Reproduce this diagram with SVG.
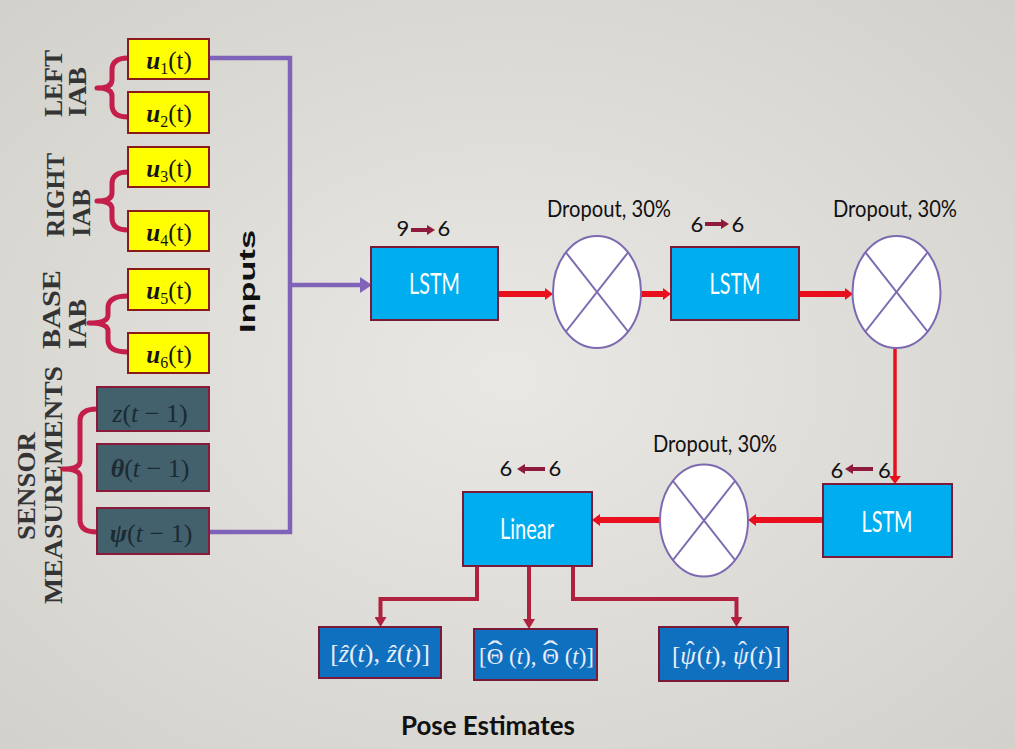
<svg xmlns="http://www.w3.org/2000/svg" width="1015" height="749" viewBox="0 0 1015 749">
<defs>
<radialGradient id="bg" cx="50%" cy="50%" r="70%">
<stop offset="0" stop-color="#EAE8E4"/>
<stop offset="1" stop-color="#D3D1CC"/>
</radialGradient>
<marker id="hp" markerUnits="userSpaceOnUse" markerWidth="12" markerHeight="16" refX="0" refY="8" orient="auto"><path d="M0,0 L12,8 L0,16 Z" fill="#7F63B8"/></marker>
<marker id="hr" markerUnits="userSpaceOnUse" markerWidth="8" markerHeight="12" refX="0" refY="6" orient="auto"><path d="M0,0 L8,6 L0,12 Z" fill="#E8101C"/></marker>
<marker id="hc" markerUnits="userSpaceOnUse" markerWidth="10" markerHeight="12" refX="0" refY="6" orient="auto"><path d="M0,0 L10,6 L0,12 Z" fill="#B0203F"/></marker>
<marker id="hl" markerUnits="userSpaceOnUse" markerWidth="8" markerHeight="10" refX="0" refY="5" orient="auto"><path d="M0,0 L8,5 L0,10 Z" fill="#8E1B3C"/></marker>
</defs>
<style>
.side{font-family:"Liberation Serif",serif;font-weight:bold;font-size:25px;fill:#343434}
.yb{fill:#FFFF00;stroke:#8B1A1A;stroke-width:2}
.sb{fill:#43606D;stroke:#8B1A3A;stroke-width:2}
.lb{fill:#00AEEF;stroke:#7B1A38;stroke-width:2}
.ob{fill:#1070C0;stroke:#7B1A38;stroke-width:2}
.ell{fill:#FFFFFF;stroke:#7D6AB0;stroke-width:2}
.xl{stroke:#7D6AB0;stroke-width:2}
.ut{font-family:"Liberation Serif",serif;font-size:25px;fill:#151515}
.st{font-family:"Liberation Serif",serif;font-size:26px;fill:#1B2A33}
.ot{font-family:"Liberation Serif","DejaVu Serif",serif;fill:#E8EEF8}
.gs{font-family:Lato,"Open Sans",sans-serif;fill:#111}
.wt{font-family:Lato,"Open Sans",sans-serif;fill:#FFFFFF;font-size:29px}
.brace{fill:none;stroke:#C41E4A;stroke-width:5;stroke-linejoin:round;stroke-linecap:round}
.pur{fill:none;stroke:#7F63B8;stroke-width:4.5}
.red{fill:none;stroke:#E8101C;stroke-width:6}
.redv{fill:none;stroke:#E8101C;stroke-width:3.5}
.crm{fill:none;stroke:#B0203F;stroke-width:4}
.la{fill:none;stroke:#8E1B3C;stroke-width:4}
</style>
<rect x="0" y="0" width="1015" height="749" fill="url(#bg)"/>

<g id="side-labels">
<text class="side" transform="translate(62,117) rotate(-90)" textLength="67" lengthAdjust="spacingAndGlyphs">LEFT</text>
<text class="side" transform="translate(86,117) rotate(-90)" textLength="50" lengthAdjust="spacingAndGlyphs">IAB</text>
<text class="side" transform="translate(64,237) rotate(-90)" textLength="84" lengthAdjust="spacingAndGlyphs">RIGHT</text>
<text class="side" transform="translate(90,237) rotate(-90)" textLength="48" lengthAdjust="spacingAndGlyphs">IAB</text>
<text class="side" transform="translate(60,349) rotate(-90)" textLength="79" lengthAdjust="spacingAndGlyphs">BASE</text>
<text class="side" transform="translate(86,349) rotate(-90)" textLength="50" lengthAdjust="spacingAndGlyphs">IAB</text>
<text class="side" transform="translate(35,486) rotate(-90)" text-anchor="middle" textLength="108" lengthAdjust="spacingAndGlyphs">SENSOR</text>
<text class="side" transform="translate(62,485) rotate(-90)" text-anchor="middle" textLength="238" lengthAdjust="spacingAndGlyphs">MEASUREMENTS</text>
<text transform="translate(255,281.5) rotate(-90)" text-anchor="middle" font-family="'Liberation Sans',Arial,sans-serif" font-weight="bold" font-size="22" fill="#111" textLength="103" lengthAdjust="spacingAndGlyphs">Inputs</text>
</g>

<g id="braces">
<path class="brace" d="M128,58 Q112,58 112,70 L112,80 Q112,88 97,88 Q112,88 112,96 L112,105 Q112,117 128,117"/>
<path class="brace" d="M128,172 Q112,172 112,184 L112,193 Q112,201 97,201 Q112,201 112,209 L112,218 Q112,230 128,230"/>
<path class="brace" d="M128,296 Q108,296 108,308 L108,315 Q108,323 89,323 Q108,323 108,331 L108,340 Q108,352 128,352"/>
<path class="brace" d="M97,409 Q80,409 80,421 L80,461 Q80,469 63,469 Q80,469 80,477 L80,520 Q80,532 97,532"/>
</g>

<g id="connectors">
<path class="pur" d="M209,58 H290 V532 H209"/>
<path class="pur" d="M288,285 H360" marker-end="url(#hp)"/>
<path class="red" d="M499,294 H545" marker-end="url(#hr)"/>
<path class="red" d="M641,294 H663" marker-end="url(#hr)"/>
<path class="red" d="M799,294 H845" marker-end="url(#hr)"/>
<path class="redv" d="M895,347 V476" marker-end="url(#hr)"/>
<path class="red" d="M822,520 H756" marker-end="url(#hr)"/>
<path class="red" d="M660,520 H600" marker-end="url(#hr)"/>
<path class="crm" d="M477,566 V599 H380.5 V617" marker-end="url(#hc)"/>
<path class="crm" d="M529,566 V619" marker-end="url(#hc)"/>
<path class="crm" d="M573,566 V599 H736.5 V617" marker-end="url(#hc)"/>
</g>

<g id="u1"><rect class="yb" x="128" y="39" width="81" height="40"/><text class="ut" x="169" y="69" text-anchor="middle"><tspan font-style="italic" font-weight="bold">u</tspan><tspan font-size="16" dy="5">1</tspan><tspan dy="-5">(t)</tspan></text></g>
<g id="u2"><rect class="yb" x="128" y="92" width="81" height="41"/><text class="ut" x="169" y="122" text-anchor="middle"><tspan font-style="italic" font-weight="bold">u</tspan><tspan font-size="16" dy="5">2</tspan><tspan dy="-5">(t)</tspan></text></g>
<g id="u3"><rect class="yb" x="128" y="147" width="81" height="40"/><text class="ut" x="169" y="177" text-anchor="middle"><tspan font-style="italic" font-weight="bold">u</tspan><tspan font-size="16" dy="5">3</tspan><tspan dy="-5">(t)</tspan></text></g>
<g id="u4"><rect class="yb" x="128" y="211" width="81" height="40"/><text class="ut" x="169" y="241" text-anchor="middle"><tspan font-style="italic" font-weight="bold">u</tspan><tspan font-size="16" dy="5">4</tspan><tspan dy="-5">(t)</tspan></text></g>
<g id="u5"><rect class="yb" x="128" y="269" width="81" height="41"/><text class="ut" x="169" y="299" text-anchor="middle"><tspan font-style="italic" font-weight="bold">u</tspan><tspan font-size="16" dy="5">5</tspan><tspan dy="-5">(t)</tspan></text></g>
<g id="u6"><rect class="yb" x="128" y="333" width="81" height="40"/><text class="ut" x="169" y="363" text-anchor="middle"><tspan font-style="italic" font-weight="bold">u</tspan><tspan font-size="16" dy="5">6</tspan><tspan dy="-5">(t)</tspan></text></g>

<g id="z-prev"><rect class="sb" x="97" y="387" width="112" height="44"/><text class="st" x="150" y="422" text-anchor="middle"><tspan font-style="italic">z</tspan>(<tspan font-style="italic">t</tspan> − 1)</text></g>
<g id="theta-prev"><rect class="sb" x="97" y="444" width="112" height="47"/><text class="st" x="150" y="477" text-anchor="middle"><tspan font-style="italic" font-weight="bold">θ</tspan>(<tspan font-style="italic">t</tspan> − 1)</text></g>
<g id="psi-prev"><rect class="sb" x="97" y="508" width="112" height="46"/><text class="st" x="151" y="542" text-anchor="middle"><tspan font-style="italic" font-weight="bold">ψ</tspan>(<tspan font-style="italic">t</tspan> − 1)</text></g>

<g id="lstm1"><rect class="lb" x="371" y="247" width="127" height="73"/><text class="wt" x="434.5" y="294" text-anchor="middle" textLength="51" lengthAdjust="spacingAndGlyphs">LSTM</text>
<text class="gs" font-size="22" x="403" y="236" text-anchor="middle">9</text><text class="gs" font-size="22" x="444" y="236" text-anchor="middle">6</text><path class="la" d="M411,230 H427" marker-end="url(#hl)"/></g>

<g id="dropout1"><ellipse class="ell" cx="597" cy="292" rx="44" ry="56"/><line class="xl" x1="566" y1="252.5" x2="628" y2="331.5"/><line class="xl" x1="628" y1="252.5" x2="566" y2="331.5"/>
<text class="gs" font-size="24" x="547" y="217" textLength="124" lengthAdjust="spacingAndGlyphs">Dropout, 30%</text></g>

<g id="lstm2"><rect class="lb" x="671" y="247" width="128" height="73"/><text class="wt" x="735" y="294" text-anchor="middle" textLength="51" lengthAdjust="spacingAndGlyphs">LSTM</text>
<text class="gs" font-size="22" x="697" y="232" text-anchor="middle">6</text><text class="gs" font-size="22" x="738" y="232" text-anchor="middle">6</text><path class="la" d="M705,224 H721" marker-end="url(#hl)"/></g>

<g id="dropout2"><ellipse class="ell" cx="896.5" cy="292" rx="44" ry="56"/><line class="xl" x1="865.5" y1="252.5" x2="927.5" y2="331.5"/><line class="xl" x1="927.5" y1="252.5" x2="865.5" y2="331.5"/>
<text class="gs" font-size="24" x="833" y="217" textLength="124" lengthAdjust="spacingAndGlyphs">Dropout, 30%</text></g>

<g id="lstm3"><rect class="lb" x="823" y="484" width="129" height="73"/><text class="wt" x="887" y="532" text-anchor="middle" textLength="51" lengthAdjust="spacingAndGlyphs">LSTM</text>
<text class="gs" font-size="22" x="837" y="478" text-anchor="middle">6</text><text class="gs" font-size="22" x="884.5" y="478" text-anchor="middle">6</text><path class="la" d="M873,469 H853" marker-end="url(#hl)"/></g>

<g id="dropout3"><ellipse class="ell" cx="704" cy="520.5" rx="44" ry="56"/><line class="xl" x1="673" y1="481" x2="735" y2="560"/><line class="xl" x1="735" y1="481" x2="673" y2="560"/>
<text class="gs" font-size="24" x="653" y="452" textLength="124" lengthAdjust="spacingAndGlyphs">Dropout, 30%</text></g>

<g id="linear"><rect class="lb" x="463" y="492" width="129" height="74"/><text class="wt" x="527" y="539" text-anchor="middle" textLength="54" lengthAdjust="spacingAndGlyphs">Linear</text>
<text class="gs" font-size="22" x="506" y="476" text-anchor="middle">6</text><text class="gs" font-size="22" x="555" y="476" text-anchor="middle">6</text><path class="la" d="M545,469 H525" marker-end="url(#hl)"/></g>

<g id="out-z"><rect class="ob" x="319" y="627" width="122" height="51"/><text class="ot" font-size="26" x="380" y="662" text-anchor="middle">[<tspan font-style="italic">ẑ</tspan>(<tspan font-style="italic">t</tspan>), <tspan font-style="italic">ẑ</tspan>(<tspan font-style="italic">t</tspan>)]</text></g>
<g id="out-theta"><rect class="ob" x="474" y="629" width="123" height="51"/>
<text class="ot" font-size="23" y="664"><tspan x="479">[</tspan><tspan x="486.7">Θ</tspan><tspan x="503.3"> (</tspan><tspan x="516.7" font-style="italic">t</tspan><tspan x="523.1">),</tspan><tspan x="542.3">Θ</tspan><tspan x="558.9"> (</tspan><tspan x="572.3" font-style="italic">t</tspan><tspan x="578.7">)]</tspan></text>
<text class="ot" font-size="30" x="495" y="661" text-anchor="middle" textLength="15" lengthAdjust="spacingAndGlyphs">ˆ</text>
<text class="ot" font-size="30" x="550.6" y="661" text-anchor="middle" textLength="15" lengthAdjust="spacingAndGlyphs">ˆ</text></g>
<g id="out-psi"><rect class="ob" x="659" y="627" width="129" height="54"/>
<text class="ot" font-size="25" y="664"><tspan x="672">[</tspan><tspan x="680.3" font-style="italic">ψ</tspan><tspan x="696.8">(</tspan><tspan x="705.1" font-style="italic">t</tspan><tspan x="712.1">),</tspan><tspan x="732.9" font-style="italic">ψ</tspan><tspan x="749.4">(</tspan><tspan x="757.7" font-style="italic">t</tspan><tspan x="764.6">)]</tspan></text>
<text class="ot" font-size="26" x="690" y="659" text-anchor="middle">ˆ</text>
<text class="ot" font-size="26" x="742.5" y="659" text-anchor="middle">ˆ</text></g>

<text class="gs" x="488" y="735" text-anchor="middle" font-size="26" font-weight="bold" textLength="174" lengthAdjust="spacingAndGlyphs">Pose Estimates</text>
</svg>
